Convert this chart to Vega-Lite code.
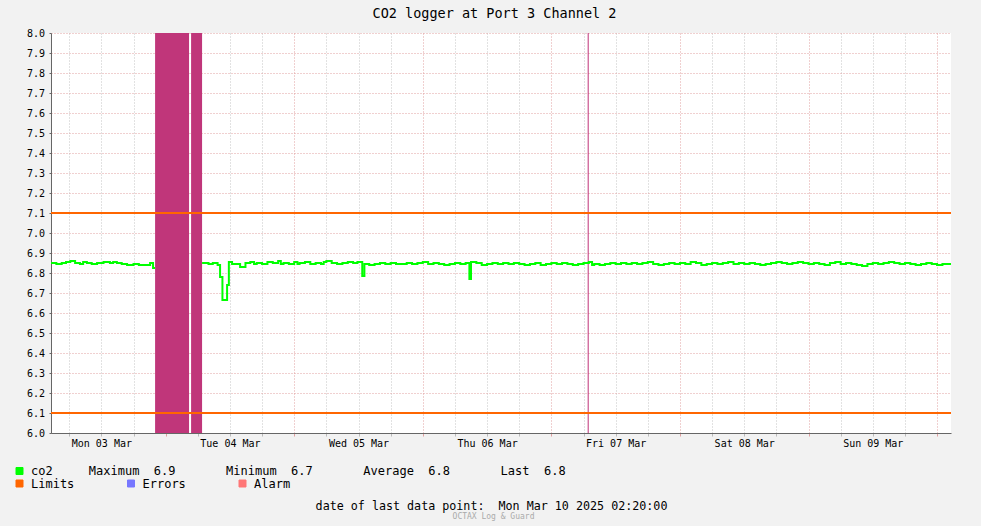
{
  "$schema": "https://vega.github.io/schema/vega-lite/v6.json",
  "width": 900,
  "height": 400,
  "autosize": {"type": "none"},
  "padding": {"left": 51, "top": 33, "right": 30, "bottom": 93},
  "background": "#f2f2f2",
  "view": {"fill": "#ffffff", "stroke": null},
  "title": {
    "text": "CO2 logger at Port 3 Channel 2",
    "font": "DejaVu Sans Mono",
    "fontSize": 13.5,
    "fontWeight": "normal",
    "color": "#000000",
    "anchor": "middle",
    "frame": "group",
    "baseline": "alphabetic",
    "offset": 15,
    "dx": -6.5,
    "dy": 18
  },
  "config": {
    "font": "DejaVu Sans Mono",
    "axis": {"labelFont": "DejaVu Sans Mono", "labelFontSize": 10, "labelColor": "#000000", "titleFont": "DejaVu Sans Mono"},
    "legend": {"labelFont": "DejaVu Sans Mono", "labelFontSize": 12, "labelColor": "#000000"}
  },
  "datasets": {
    "co2": [
      {"h": 2.6, "co2": 6.850}, {"h": 3.6, "co2": 6.845}, {"h": 4.6, "co2": 6.850}, {"h": 5.4, "co2": 6.855},
      {"h": 6.2, "co2": 6.860}, {"h": 7.1, "co2": 6.850}, {"h": 8.0, "co2": 6.845}, {"h": 8.6, "co2": 6.855},
      {"h": 9.3, "co2": 6.850}, {"h": 10.2, "co2": 6.845}, {"h": 11.2, "co2": 6.850}, {"h": 12.4, "co2": 6.855},
      {"h": 13.6, "co2": 6.850}, {"h": 14.2, "co2": 6.855}, {"h": 14.9, "co2": 6.850}, {"h": 15.8, "co2": 6.845},
      {"h": 16.8, "co2": 6.840}, {"h": 18.0, "co2": 6.845}, {"h": 19.0, "co2": 6.840}, {"h": 20.0, "co2": 6.840},
      {"h": 21.1, "co2": 6.850}, {"h": 21.65, "co2": 6.825}, {"h": 22.03, "co2": 6.825},
      {"h": 26.0, "co2": null},
      {"h": 30.8, "co2": 6.850}, {"h": 32.0, "co2": 6.845}, {"h": 32.8, "co2": 6.850}, {"h": 33.7, "co2": 6.840},
      {"h": 34.16, "co2": 6.780}, {"h": 34.6, "co2": 6.665}, {"h": 35.47, "co2": 6.740}, {"h": 35.8, "co2": 6.855},
      {"h": 36.4, "co2": 6.845}, {"h": 37.4, "co2": 6.845}, {"h": 37.9, "co2": 6.830}, {"h": 38.9, "co2": 6.850},
      {"h": 39.8, "co2": 6.855}, {"h": 40.5, "co2": 6.845}, {"h": 41.0, "co2": 6.850}, {"h": 42.0, "co2": 6.845}, {"h": 43.0, "co2": 6.855},
      {"h": 44.0, "co2": 6.850}, {"h": 45.0, "co2": 6.860}, {"h": 45.5, "co2": 6.845}, {"h": 46.0, "co2": 6.850}, {"h": 47.0, "co2": 6.845},
      {"h": 48.0, "co2": 6.855}, {"h": 48.6, "co2": 6.845}, {"h": 49.0, "co2": 6.850}, {"h": 50.0, "co2": 6.855}, {"h": 51.0, "co2": 6.845},
      {"h": 52.0, "co2": 6.850}, {"h": 53.0, "co2": 6.845}, {"h": 53.5, "co2": 6.855}, {"h": 54.0, "co2": 6.860}, {"h": 55.0, "co2": 6.850},
      {"h": 56.0, "co2": 6.845}, {"h": 57.0, "co2": 6.850}, {"h": 58.0, "co2": 6.855}, {"h": 59.0, "co2": 6.850},
      {"h": 59.8, "co2": 6.855}, {"h": 60.7, "co2": 6.785}, {"h": 61.1, "co2": 6.845}, {"h": 62.0, "co2": 6.840},
      {"h": 63.0, "co2": 6.845}, {"h": 64.0, "co2": 6.850}, {"h": 65.0, "co2": 6.845}, {"h": 66.0, "co2": 6.850},
      {"h": 67.0, "co2": 6.845}, {"h": 68.0, "co2": 6.845}, {"h": 69.0, "co2": 6.850}, {"h": 70.0, "co2": 6.845},
      {"h": 71.0, "co2": 6.850}, {"h": 72.0, "co2": 6.855}, {"h": 73.0, "co2": 6.845}, {"h": 74.0, "co2": 6.850},
      {"h": 75.0, "co2": 6.845}, {"h": 76.0, "co2": 6.840}, {"h": 77.0, "co2": 6.845}, {"h": 78.0, "co2": 6.850},
      {"h": 79.0, "co2": 6.845}, {"h": 80.0, "co2": 6.850}, {"h": 80.7, "co2": 6.770}, {"h": 81.0, "co2": 6.855},
      {"h": 82.0, "co2": 6.850}, {"h": 83.0, "co2": 6.840}, {"h": 84.0, "co2": 6.845}, {"h": 85.0, "co2": 6.850},
      {"h": 86.0, "co2": 6.845}, {"h": 87.0, "co2": 6.850}, {"h": 88.0, "co2": 6.845}, {"h": 89.0, "co2": 6.850},
      {"h": 90.0, "co2": 6.845}, {"h": 91.0, "co2": 6.840}, {"h": 92.0, "co2": 6.845}, {"h": 93.0, "co2": 6.850},
      {"h": 94.0, "co2": 6.840}, {"h": 95.0, "co2": 6.845}, {"h": 96.0, "co2": 6.850}, {"h": 97.0, "co2": 6.845},
      {"h": 98.0, "co2": 6.850}, {"h": 99.0, "co2": 6.845}, {"h": 100.0, "co2": 6.840}, {"h": 101.0, "co2": 6.845},
      {"h": 102.0, "co2": 6.850}, {"h": 103.0, "co2": 6.855}, {"h": 103.6, "co2": 6.840}, {"h": 104.0, "co2": 6.845}, {"h": 105.0, "co2": 6.840},
      {"h": 106.0, "co2": 6.845}, {"h": 107.0, "co2": 6.850}, {"h": 108.0, "co2": 6.845}, {"h": 109.0, "co2": 6.850},
      {"h": 110.0, "co2": 6.845}, {"h": 111.0, "co2": 6.850}, {"h": 112.0, "co2": 6.845}, {"h": 113.0, "co2": 6.850},
      {"h": 114.0, "co2": 6.855}, {"h": 115.0, "co2": 6.845}, {"h": 116.0, "co2": 6.840}, {"h": 117.0, "co2": 6.845},
      {"h": 118.0, "co2": 6.850}, {"h": 119.0, "co2": 6.845}, {"h": 120.0, "co2": 6.850}, {"h": 121.0, "co2": 6.845},
      {"h": 122.0, "co2": 6.855}, {"h": 123.0, "co2": 6.850}, {"h": 124.0, "co2": 6.840}, {"h": 125.0, "co2": 6.845},
      {"h": 126.0, "co2": 6.850}, {"h": 127.0, "co2": 6.845}, {"h": 128.0, "co2": 6.850}, {"h": 129.0, "co2": 6.855},
      {"h": 130.0, "co2": 6.845}, {"h": 131.0, "co2": 6.850}, {"h": 132.0, "co2": 6.845}, {"h": 133.0, "co2": 6.850},
      {"h": 134.0, "co2": 6.845}, {"h": 135.0, "co2": 6.840}, {"h": 136.0, "co2": 6.845}, {"h": 137.0, "co2": 6.850},
      {"h": 138.0, "co2": 6.855}, {"h": 139.0, "co2": 6.850}, {"h": 140.0, "co2": 6.845}, {"h": 141.0, "co2": 6.850},
      {"h": 142.0, "co2": 6.855}, {"h": 143.0, "co2": 6.850}, {"h": 144.0, "co2": 6.845}, {"h": 145.0, "co2": 6.850},
      {"h": 146.0, "co2": 6.845}, {"h": 147.0, "co2": 6.840}, {"h": 148.0, "co2": 6.850}, {"h": 149.0, "co2": 6.855},
      {"h": 150.0, "co2": 6.845}, {"h": 151.0, "co2": 6.850}, {"h": 152.0, "co2": 6.845}, {"h": 153.0, "co2": 6.840},
      {"h": 154.0, "co2": 6.835}, {"h": 155.0, "co2": 6.845}, {"h": 156.0, "co2": 6.850}, {"h": 157.0, "co2": 6.845},
      {"h": 158.0, "co2": 6.850}, {"h": 159.0, "co2": 6.855}, {"h": 160.0, "co2": 6.850}, {"h": 161.0, "co2": 6.845},
      {"h": 162.0, "co2": 6.850}, {"h": 163.0, "co2": 6.845}, {"h": 164.0, "co2": 6.840}, {"h": 165.0, "co2": 6.845},
      {"h": 166.0, "co2": 6.850}, {"h": 167.0, "co2": 6.845}, {"h": 168.0, "co2": 6.840}, {"h": 169.0, "co2": 6.845},
      {"h": 170.0, "co2": 6.845}, {"h": 170.6, "co2": 6.845}
    ],
    "events": [
      {"start": 22.03, "end": 28.37},
      {"start": 28.75, "end": 30.80},
      {"start": 102.78, "end": 102.97}
    ],
    "limits": [
      {"limit": 6.1},
      {"limit": 7.1}
    ]
  },
  "layer": [
    {
      "data": {"name": "events"},
      "mark": {"type": "rect", "color": "#c0367a"},
      "encoding": {
        "x": {
          "field": "start", "type": "quantitative",
          "scale": {"domain": [2.6, 170.6], "nice": false, "zero": false},
          "axis": {
            "orient": "bottom",
            "values": [6, 12, 18, 30, 36, 42, 54, 60, 66, 78, 84, 90, 102, 108, 114, 126, 132, 138, 150, 156, 162],
            "labels": false,
            "grid": true, "gridColor": "#c4c4c4", "gridDash": [1, 2], "gridWidth": 1,
            "ticks": true, "tickColor": "#bbbbbb", "tickSize": 3,
            "domain": false,
            "zindex": 0,
            "title": "OCTAX Log & Guard",
            "titleFont": "DejaVu Sans Mono", "titleFontSize": 8, "titleFontWeight": "normal",
            "titleColor": "#aaaaaa", "titleX": 442, "titleY": 85,
            "titleAlign": "center", "titleBaseline": "alphabetic", "titleAnchor": null
          }
        },
        "x2": {"field": "end"}
      }
    },
    {
      "data": {"name": "limits"},
      "mark": {"type": "rule", "strokeWidth": 2},
      "encoding": {
        "y": {
          "field": "limit", "type": "quantitative",
          "scale": {"domain": [6, 8], "nice": false, "zero": false},
          "axis": null
        },
        "color": {
          "datum": "Limits", "type": "nominal",
          "scale": {"domain": ["Limits", "Errors", "Alarm"], "range": ["#ff6600", "#7777ff", "#ff7777"]},
          "legend": {
            "orient": "none", "legendX": -37.5, "legendY": 444.5,
            "direction": "horizontal", "columns": 3, "columnPadding": 50.5,
            "title": null, "padding": 0,
            "symbolType": "square", "symbolSize": 49, "symbolStrokeWidth": 1, "symbolStrokeColor": "#000000",
            "labelOffset": 5.5, "labelFontSize": 12, "labelLimit": 0,
            "encode": {
              "symbols": {
                "update": {
                  "fill": {"scale": "color", "field": "value"},
                  "stroke": {"value": "#000000"},
                  "strokeWidth": {"value": 1},
                  "opacity": {"value": 1}
                }
              }
            }
          }
        }
      }
    },
    {
      "data": {"name": "co2"},
      "mark": {"type": "line", "interpolate": "step-after", "strokeWidth": 2, "invalid": "break-paths-filter-domains"},
      "encoding": {
        "x": {
          "field": "h", "type": "quantitative",
          "scale": {"domain": [2.6, 170.6], "nice": false, "zero": false},
          "axis": {
            "orient": "bottom",
            "values": [24, 48, 72, 96, 120, 144, 168],
            "labels": false,
            "grid": true, "gridColor": "#e0a0a0", "gridDash": [1, 2], "gridWidth": 1,
            "ticks": true, "tickColor": "#e0a0a0", "tickSize": 3,
            "domain": true, "domainColor": "#666666", "domainWidth": 1,
            "zindex": 0,
            "title": null
          }
        },
        "y": {
          "field": "co2", "type": "quantitative",
          "scale": {"domain": [6, 8], "nice": false, "zero": false},
          "axis": {
            "orient": "left",
            "values": [6.0, 6.1, 6.2, 6.3, 6.4, 6.5, 6.6, 6.7, 6.8, 6.9, 7.0, 7.1, 7.2, 7.3, 7.4, 7.5, 7.6, 7.7, 7.8, 7.9, 8.0],
            "format": ".1f",
            "grid": true, "gridColor": "#e0a0a0", "gridDash": [1, 2], "gridWidth": 1,
            "domain": true, "domainColor": "#666666", "domainWidth": 1,
            "ticks": true, "tickColor": "#666666", "tickSize": 2,
            "labelPadding": 4.5, "labelFontSize": 10,
            "zindex": 0,
            "title": null
          }
        },
        "stroke": {
          "datum": "co2", "type": "nominal",
          "scale": {"domain": ["co2"], "range": ["#00ff00"]},
          "legend": {
            "orient": "none", "legendX": -37.5, "legendY": 432,
            "title": null, "padding": 0,
            "symbolType": "square", "symbolSize": 49, "symbolStrokeWidth": 1,
            "labelOffset": 5.5, "labelFontSize": 12, "labelLimit": 0,
            "labelExpr": "datum.label + '\u00a0\u00a0\u00a0\u00a0\u00a0Maximum\u00a0\u00a06.9\u00a0\u00a0\u00a0\u00a0\u00a0\u00a0\u00a0Minimum\u00a0\u00a06.7\u00a0\u00a0\u00a0\u00a0\u00a0\u00a0\u00a0Average\u00a0\u00a06.8\u00a0\u00a0\u00a0\u00a0\u00a0\u00a0\u00a0Last\u00a0\u00a06.8'",
            "encode": {
              "symbols": {
                "update": {
                  "fill": {"value": "#00ff00"},
                  "stroke": {"value": "#000000"},
                  "strokeWidth": {"value": 1},
                  "opacity": {"value": 1}
                }
              }
            }
          }
        }
      }
    },
    {
      "mark": {"type": "point", "shape": "triangle-up", "filled": true, "color": "#a01818", "size": 30, "opacity": 1},
      "encoding": {
        "x": {"datum": 2.6, "type": "quantitative", "scale": {"domain": [2.6, 170.6], "nice": false, "zero": false}, "axis": null},
        "y": {"datum": 8.02, "type": "quantitative", "scale": {"domain": [6, 8], "nice": false, "zero": false}, "axis": null}
      }
    },
    {
      "mark": {"type": "point", "shape": "triangle-right", "filled": true, "color": "#a01818", "size": 30, "opacity": 1},
      "encoding": {
        "x": {
          "datum": 171.4, "type": "quantitative",
          "scale": {"domain": [2.6, 170.6], "nice": false, "zero": false},
          "axis": {
            "orient": "bottom",
            "values": [12, 36, 60, 84, 108, 132, 156],
            "labelExpr": "['Mon 03 Mar','Tue 04 Mar','Wed 05 Mar','Thu 06 Mar','Fri 07 Mar','Sat 08 Mar','Sun 09 Mar'][floor(datum.value / 24)]",
            "labelFontSize": 10, "labelPadding": 5, "labelBaseline": "top",
            "grid": false, "ticks": false, "tickSize": 0, "domain": false,
            "zindex": 1,
            "title": "date of last data point:\u00a0\u00a0Mon Mar 10 2025 02:20:00",
            "titleFont": "DejaVu Sans Mono", "titleFontSize": 11.7, "titleFontWeight": "normal",
            "titleColor": "#000000", "titleX": 440, "titleY": 76,
            "titleAlign": "center", "titleBaseline": "alphabetic", "titleAnchor": null
          }
        },
        "y": {"datum": 6.0, "type": "quantitative", "scale": {"domain": [6, 8], "nice": false, "zero": false}, "axis": null}
      }
    }
  ],
  "resolve": {"axis": {"x": "independent", "y": "independent"}}
}
